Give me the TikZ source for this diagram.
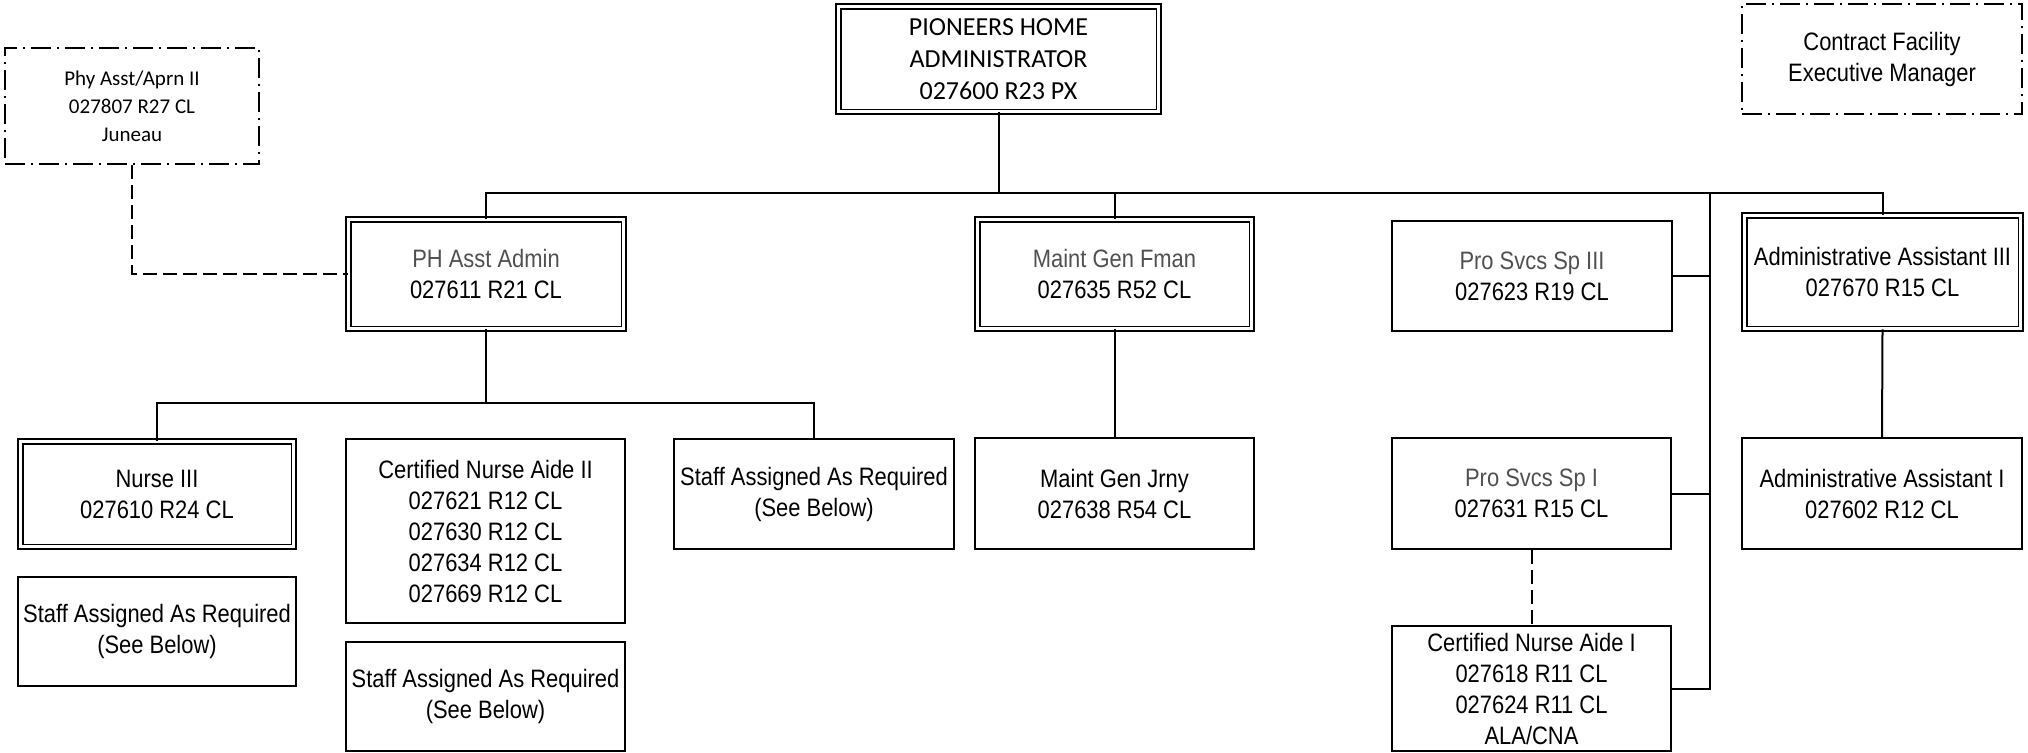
\documentclass[tikz,border=0pt]{standalone}
\usepackage{fontspec}
\newfontfamily\arialn[FakeStretch=0.87]{Liberation Sans}
\newfontfamily\calib{Carlito}
\definecolor{ttl}{HTML}{505050}
\tikzset{
  box/.style={draw, line width=1pt, inner sep=0pt, align=center, anchor=center,
    font={\arialn\fontsize{12.6pt}{15.5pt}\selectfont}},
  dbox/.style={box, double, double distance=1.6pt, line width=0.75pt},
  dashdotbox/.style={box, dash pattern=on 10pt off 3pt on 1pt off 3pt},
  conn/.style={line width=1pt},
  dconn/.style={line width=1pt, dash pattern=on 7pt off 3pt},
}
\begin{document}
\begin{tikzpicture}[x=0.5pt,y=-0.5pt]
\useasboundingbox (0,0) rectangle (2028,752);
% top level
\node[dbox, minimum width=160.1pt, minimum height=52.6pt,
  font={\calib\fontsize{13pt}{16pt}\selectfont}] (admin) at (998.5,59)
  {PIONEERS HOME\\ADMINISTRATOR\\027600 R23 PX};
\node[dashdotbox, minimum width=140pt, minimum height=55pt] (contract) at (1882,59)
  {Contract Facility\\Executive Manager};
\node[dashdotbox, minimum width=127pt, minimum height=58pt,
  font={\calib\fontsize{10.5pt}{14pt}\selectfont}] (phy) at (132,106)
  {Phy Asst/Aprn II\\027807 R27 CL\\Juneau};
% second level
\node[dbox, minimum width=137.6pt, minimum height=54.6pt] (phasst) at (486,274)
  {{\color{ttl}PH Asst Admin}\\027611 R21 CL};
\node[dbox, minimum width=137.1pt, minimum height=54.6pt] (maintf) at (1114.5,274)
  {{\color{ttl}Maint Gen Fman}\\027635 R52 CL};
\node[box, minimum width=140pt, minimum height=55pt] (pro3) at (1532,276)
  {{\color{ttl}Pro Svcs Sp III}\\027623 R19 CL};
\node[dbox, minimum width=138.1pt, minimum height=56.6pt] (aa3) at (1882.5,272)
  {Administrative Assistant III\\027670 R15 CL};
% third level
\node[dbox, minimum width=136.6pt, minimum height=52.6pt] (nurse3) at (157,494)
  {Nurse III\\027610 R24 CL};
\node[box, minimum width=139pt, minimum height=54.5pt] (staff1) at (157,631.5)
  {Staff Assigned As Required\\(See Below)};
\node[box, minimum width=139.5pt, minimum height=92pt] (cna2) at (485.5,531)
  {Certified Nurse Aide II\\027621 R12 CL\\027630 R12 CL\\027634 R12 CL\\027669 R12 CL};
\node[box, minimum width=139.5pt, minimum height=54.5pt] (staff2) at (485.5,696.5)
  {Staff Assigned As Required\\(See Below)};
\node[box, minimum width=140pt, minimum height=55pt] (staff3) at (814,494)
  {Staff Assigned As Required\\(See Below)};
\node[box, minimum width=139.5pt, minimum height=55.5pt] (maintj) at (1114.5,493.5)
  {Maint Gen Jrny\\027638 R54 CL};
\node[box, minimum width=139.5pt, minimum height=55.5pt] (pro1) at (1531.5,493.5)
  {{\color{ttl}Pro Svcs Sp I}\\027631 R15 CL};
\node[box, minimum width=139.5pt, minimum height=62.5pt] (cna1) at (1531.5,688.5)
  {Certified Nurse Aide I\\027618 R11 CL\\027624 R11 CL\\ALA/CNA};
\node[box, minimum width=140pt, minimum height=55.5pt] (aa1) at (1882,493.5)
  {Administrative Assistant I\\027602 R12 CL};
% connectors
\coordinate (b1) at (998.5,193);
\coordinate (pv) at (1710,193);
\coordinate (b2) at (486,403);
\draw[conn] (admin.south) -- (b1);
\draw[conn] (phasst.north) -- (phasst.north |- b1) -- (aa3.north |- b1) -- (aa3.north);
\draw[conn] (maintf.north) -- (maintf.north |- b1);
\draw[conn] (pv) |- (cna1.east);
\draw[conn] (pro3.east) -- (pro3.east -| pv);
\draw[conn] (pro1.east) -- (pro1.east -| pv);
\draw[dconn] (phy.south) |- (phasst.west);
\draw[conn] (phasst.south) -- (b2);
\draw[conn] (nurse3.north) -- (nurse3.north |- b2) -- (staff3.north |- b2) -- (staff3.north);
\draw[conn] (maintf.south) -- (maintj.north);
\draw[conn] (aa3.south) -- (aa1.north);
\draw[dconn] (pro1.south) -- (cna1.north);
\end{tikzpicture}
\end{document}
